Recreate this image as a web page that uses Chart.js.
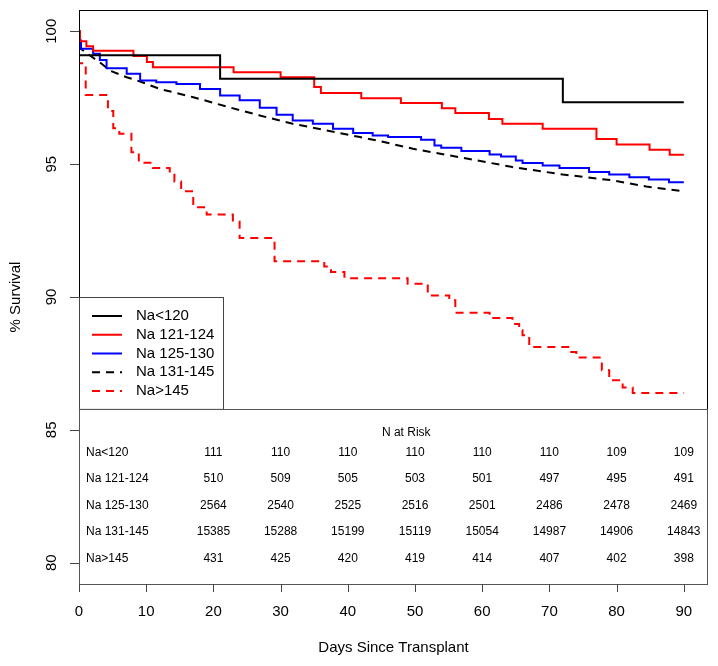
<!DOCTYPE html>
<html>
<head>
<meta charset="utf-8">
<script src="https://cdn.jsdelivr.net/npm/chart.js@4.4.1/dist/chart.umd.min.js"></script>
<style>
  body { margin: 0; background: #fff; }
  #wrap { width: 718px; height: 666px; }
</style>
</head>
<body>
<div id="wrap"><canvas id="km" width="718" height="666"></canvas></div>
<script>
// survival curves (days, % survival)
const naLt120Days = [0, 0, 21, 72, 90];
const naLt120Surv = [100, 99.1, 98.21, 97.33, 97.33];

const na121Days = [0, 0.15, 1.1, 2.1, 8.1, 10.1, 11, 23, 30, 35, 36, 42, 47.9, 54, 56, 61, 63, 69, 77, 80, 84.9, 87.9, 90];
const na121Surv = [100, 99.62, 99.44, 99.27, 99.07, 98.84, 98.65, 98.46, 98.27, 97.9, 97.68, 97.48, 97.3, 97.1, 96.92, 96.7, 96.52, 96.33, 95.95, 95.74, 95.54, 95.35, 95.35];

const na125Days = [0, 0.1, 0.3, 2.1, 3.1, 4.1, 7.1, 9.1, 11.5, 14.5, 18, 21, 23.9, 26.9, 29.4, 31.8, 34.8, 37.8, 40.8, 43.7, 46, 50.9, 52.9, 53.9, 56.9, 61.1, 62.8, 65, 66, 69, 71.5, 75.9, 78.9, 81.9, 84.8, 87.8, 90];
const na125Surv = [100, 99.65, 99.34, 99.15, 98.92, 98.61, 98.4, 98.15, 98.08, 98.02, 97.83, 97.58, 97.4, 97.12, 96.86, 96.64, 96.52, 96.33, 96.17, 96.08, 96.02, 95.92, 95.7, 95.62, 95.49, 95.36, 95.29, 95.14, 95.04, 94.95, 94.85, 94.7, 94.61, 94.51, 94.42, 94.32, 94.32];

const na131Days = [0, 0, 1, 3.1, 4.6, 7.1, 9.1, 12, 17, 21.9, 26.9, 31.8, 36.8, 41.8, 44.7, 49.7, 57.1, 64.5, 72, 79.4, 84.4, 90];
const na131Surv = [100, 99.4, 99.2, 98.83, 98.52, 98.27, 98.11, 97.83, 97.52, 97.17, 96.83, 96.52, 96.27, 96.02, 95.87, 95.58, 95.24, 94.89, 94.61, 94.39, 94.16, 93.98];

const naGt145Days = [0, 0, 1, 4.3, 5.1, 6, 7.8, 8.9, 11, 13.5, 14.2, 15.2, 17, 19, 22.9, 23.9, 29.1, 36.5, 37.5, 39.5, 48.9, 51.9, 55.1, 56, 61.1, 64.5, 65.5, 66, 67, 73, 74, 77.8, 78.9, 80.9, 82.4, 90];
const naGt145Surv = [100, 98.8, 97.6, 97.0, 96.35, 96.14, 95.45, 95.05, 94.85, 94.65, 94.35, 93.98, 93.38, 93.1, 92.88, 92.22, 91.35, 91.15, 90.94, 90.71, 90.5, 90.06, 89.88, 89.41, 89.21, 88.98, 88.75, 88.56, 88.12, 87.93, 87.72, 87.24, 86.87, 86.59, 86.39, 86.39];

// number at risk table
const riskGroups = ['Na<120', 'Na 121-124', 'Na 125-130', 'Na 131-145', 'Na>145'];
const riskDays = [20, 30, 40, 50, 60, 70, 80, 90];
const riskNaLt120 = [111, 110, 110, 110, 110, 110, 109, 109];
const riskNa121 = [510, 509, 505, 503, 501, 497, 495, 491];
const riskNa125 = [2564, 2540, 2525, 2516, 2501, 2486, 2478, 2469];
const riskNa131 = [15385, 15288, 15199, 15119, 15054, 14987, 14906, 14843];
const riskNaGt145 = [431, 425, 420, 419, 414, 407, 402, 398];

const xTicks = [0, 10, 20, 30, 40, 50, 60, 70, 80, 90];
const yTicks = [80, 85, 90, 95, 100];

const FONT = '"Liberation Sans", Arial, Helvetica, sans-serif';

const pts = (xs, ys) => xs.map((d, i) => ({ x: d, y: ys[i] }));

const series = [
	{ label: 'Na<120', days: naLt120Days, surv: naLt120Surv, color: '#000000', dash: [], stepped: true },
	{ label: 'Na 121-124', days: na121Days, surv: na121Surv, color: '#ff0000', dash: [], stepped: true },
	{ label: 'Na 125-130', days: na125Days, surv: na125Surv, color: '#0000ff', dash: [], stepped: true },
	{ label: 'Na 131-145', days: na131Days, surv: na131Surv, color: '#000000', dash: [8, 6], stepped: false },
	{ label: 'Na>145', days: naGt145Days, surv: naGt145Surv, color: '#ff0000', dash: [8, 6], stepped: true },
];

// axes, frame, legend box and risk table, all placed with the chart's scales
const decor = {
	id: 'decor',
	afterDraw(chart) {
		const { ctx, chartArea: a } = chart;
		const x = chart.scales.x, y = chart.scales.y;
		ctx.save();

		// frame
		ctx.strokeStyle = '#000';
		ctx.lineWidth = 1;
		ctx.strokeRect(a.left + 0.5, a.top + 0.5, a.right - a.left - 1, a.bottom - a.top);

		// legend box
		const lgTop = y.getPixelForValue(90);
		const lgBottom = y.getPixelForValue(85.79);
		const lgRight = x.getPixelForValue(21.43);
		ctx.fillStyle = '#fff';
		ctx.fillRect(a.left, lgTop, lgRight - a.left, lgBottom - lgTop);
		ctx.strokeStyle = '#444';
		ctx.strokeRect(a.left + 0.5, Math.round(lgTop) + 0.5, lgRight - a.left, lgBottom - lgTop);
		ctx.font = '15px ' + FONT;
		ctx.textBaseline = 'middle';
		ctx.textAlign = 'left';
		series.forEach((s, i) => {
			const ry = lgTop + 19 + i * 18.75;
			ctx.beginPath();
			ctx.strokeStyle = s.color;
			ctx.lineWidth = 2;
			ctx.setLineDash(s.dash);
			ctx.moveTo(a.left + 13, ry);
			ctx.lineTo(a.left + 43, ry);
			ctx.stroke();
			ctx.setLineDash([]);
			ctx.fillStyle = '#000';
			ctx.fillText(s.label, a.left + 57, ry);
		});

		// risk table box
		ctx.fillStyle = '#fff';
		ctx.fillRect(a.left + 1, lgBottom + 1, a.right - a.left - 2, a.bottom - lgBottom - 1);
		ctx.strokeStyle = '#555';
		ctx.lineWidth = 1;
		ctx.strokeRect(a.left + 0.5, Math.round(lgBottom) + 0.5, a.right - a.left - 1, a.bottom - Math.round(lgBottom));

		ctx.fillStyle = '#000';
		ctx.font = '12px ' + FONT;
		ctx.textAlign = 'center';
		ctx.fillText('N at Risk', x.getPixelForValue(48.7), y.getPixelForValue(84.9));
		const riskRows = [riskNaLt120, riskNa121, riskNa125, riskNa131, riskNaGt145];
		riskGroups.forEach((g, i) => {
			const ry = y.getPixelForValue(84 - i + 0.16);
			ctx.textAlign = 'left';
			ctx.fillText(g, a.left + 7, ry);
			ctx.textAlign = 'center';
			riskRows[i].forEach((n, j) => ctx.fillText(String(n), x.getPixelForValue(riskDays[j]), ry));
		});

		// ticks
		ctx.strokeStyle = '#444';
		ctx.lineWidth = 1;
		ctx.beginPath();
		xTicks.forEach(t => {
			const px = Math.round(x.getPixelForValue(t)) + 0.5;
			ctx.moveTo(px, a.bottom);
			ctx.lineTo(px, a.bottom + 8);
		});
		yTicks.forEach(t => {
			const py = Math.round(y.getPixelForValue(t)) + 0.5;
			ctx.moveTo(a.left - 9, py);
			ctx.lineTo(a.left, py);
		});
		ctx.stroke();

		// tick labels
		ctx.fillStyle = '#000';
		ctx.font = '15px ' + FONT;
		ctx.textAlign = 'center';
		ctx.textBaseline = 'middle';
		xTicks.forEach(t => ctx.fillText(String(t), x.getPixelForValue(t), a.bottom + 28));
		yTicks.forEach(t => {
			ctx.save();
			ctx.translate(a.left - 27, y.getPixelForValue(t));
			ctx.rotate(-Math.PI / 2);
			ctx.fillText(String(t), 0, 0);
			ctx.restore();
		});

		// axis titles
		ctx.fillText('Days Since Transplant', (a.left + a.right) / 2, 648);
		ctx.save();
		ctx.translate(16, (a.top + a.bottom) / 2);
		ctx.rotate(-Math.PI / 2);
		ctx.fillText('% Survival', 0, 0);
		ctx.restore();

		ctx.restore();
	}
};

new Chart(document.getElementById('km').getContext('2d'), {
	type: 'line',
	data: {
		datasets: series.map(s => ({
			label: s.label,
			data: pts(s.days, s.surv),
			borderColor: s.color,
			borderWidth: 2,
			borderDash: s.dash,
			stepped: s.stepped ? 'before' : false,
			pointRadius: 0,
			fill: false,
			tension: 0,
		}))
	},
	options: {
		responsive: false,
		animation: false,
		layout: { padding: { left: 79, right: 10, top: 10, bottom: 82 } },
		plugins: { legend: { display: false }, tooltip: { enabled: false } },
		scales: {
			x: { type: 'linear', min: 0, max: 93.6, display: false },
			y: { type: 'linear', min: 79.2, max: 100.8, display: false }
		}
	},
	plugins: [decor]
});
</script>
</body>
</html>
